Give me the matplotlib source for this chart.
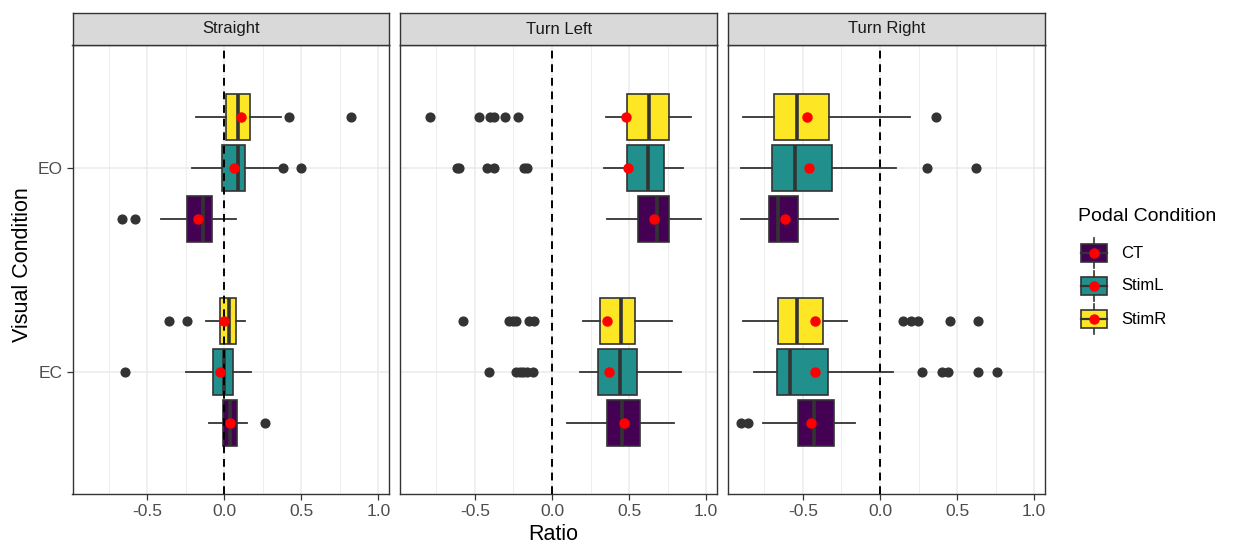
import numpy as np
import matplotlib
matplotlib.use('Agg')
import matplotlib.pyplot as plt
from matplotlib.patches import Rectangle

plt.rcParams['font.family'] = ['Liberation Sans', 'DejaVu Sans']

panels = ['Straight', 'Turn Left', 'Turn Right']
visual = ['EC', 'EO']
podal = ['CT', 'StimL', 'StimR']
colors = ['#440154', '#21908C', '#FDE725']

# order of rows in every list: EC-CT, EC-StimL, EC-StimR, EO-CT, EO-StimL, EO-StimR
whislo = {
    'Straight':   [-0.10, -0.25, -0.12, -0.41, -0.21, -0.18],
    'Turn Left':  [0.10, 0.18, 0.20, 0.36, 0.34, 0.35],
    'Turn Right': [-0.76, -0.82, -0.89, -0.90, -0.90, -0.89],
}
q1 = {
    'Straight':   [-0.01, -0.07, -0.03, -0.24, -0.015, 0.015],
    'Turn Left':  [0.36, 0.30, 0.31, 0.56, 0.49, 0.49],
    'Turn Right': [-0.53, -0.67, -0.66, -0.72, -0.70, -0.69],
}
med = {
    'Straight':   [0.037, 0.0, 0.03, -0.136, 0.09, 0.09],
    'Turn Left':  [0.455, 0.44, 0.45, 0.68, 0.62, 0.63],
    'Turn Right': [-0.43, -0.585, -0.54, -0.66, -0.55, -0.54],
}
q3 = {
    'Straight':   [0.084, 0.058, 0.074, -0.078, 0.134, 0.167],
    'Turn Left':  [0.57, 0.55, 0.54, 0.756, 0.73, 0.756],
    'Turn Right': [-0.30, -0.34, -0.37, -0.53, -0.31, -0.33],
}
whishi = {
    'Straight':   [0.149, 0.177, 0.136, 0.074, 0.35, 0.37],
    'Turn Left':  [0.79, 0.84, 0.78, 0.97, 0.85, 0.90],
    'Turn Right': [-0.16, 0.085, -0.215, -0.27, 0.107, 0.196],
}
means = {
    'Straight':   [0.041, -0.028, 0.002, -0.173, 0.067, 0.11],
    'Turn Left':  [0.466, 0.373, 0.36, 0.662, 0.496, 0.483],
    'Turn Right': [-0.446, -0.422, -0.422, -0.615, -0.459, -0.476],
}
outliers = {
    'Straight': [[0.264], [-0.643], [-0.36, -0.24], [-0.66, -0.58], [0.38, 0.50], [0.42, 0.82]],
    'Turn Left': [[], [-0.407, -0.233, -0.207, -0.185, -0.164, -0.121],
                  [-0.578, -0.276, -0.254, -0.233, -0.147, -0.116], [],
                  [-0.616, -0.60, -0.422, -0.373, -0.179, -0.164],
                  [-0.793, -0.476, -0.405, -0.379, -0.304, -0.218]],
    'Turn Right': [[-0.90, -0.854], [0.27, 0.404, 0.443, 0.635, 0.759],
                   [0.15, 0.204, 0.248, 0.454, 0.639], [], [0.302, 0.622], [0.361]],
}

W, H = 1239, 545
fig = plt.figure(figsize=(W / 100, H / 100), dpi=100)

# panel layout in pixels
lefts = [72.5, 400.3, 728.3]
pw = 316.6
top_px, bot_px = 45.3, 494.3
strip_top = 12.7

dark = '#333333'
for i, name in enumerate(panels):
    ax = fig.add_axes([lefts[i] / W, 1 - bot_px / H, pw / W, (bot_px - top_px) / H])
    ax.set_facecolor('white')
    # grid
    for xv in [-0.75, -0.25, 0.25, 0.75]:
        ax.axvline(xv, color='#EBEBEB', lw=0.6, zorder=0)
    for xv in [-0.5, 0.0, 0.5, 1.0]:
        ax.axvline(xv, color='#EBEBEB', lw=1.1, zorder=0)
    for yv in [1, 2]:
        ax.axhline(yv, color='#EBEBEB', lw=1.1, zorder=0)

    stats = []
    pos = []
    for k in range(6):
        v = k // 3
        p = k % 3
        stats.append(dict(whislo=whislo[name][k], q1=q1[name][k], med=med[name][k],
                          q3=q3[name][k], whishi=whishi[name][k], mean=means[name][k],
                          fliers=np.array(outliers[name][k])))
        pos.append(v + 1 + (p - 1) * 0.25)
    bp = ax.bxp(stats, positions=pos, widths=0.225, orientation='horizontal',
                patch_artist=True, showcaps=False, showmeans=True,
                boxprops=dict(edgecolor=dark, linewidth=1.2),
                whiskerprops=dict(color=dark, linewidth=1.3),
                medianprops=dict(color=dark, linewidth=2.6),
                flierprops=dict(marker='o', markerfacecolor=dark, markeredgecolor=dark,
                                markersize=6.3),
                meanprops=dict(marker='o', markerfacecolor='red', markeredgecolor='red',
                               markersize=6.5))
    for k, box in enumerate(bp['boxes']):
        box.set_facecolor(colors[k % 3])
        box.set_zorder(2)
    for m in bp['means']:
        m.set_zorder(5)

    ax.axvline(0, color='black', lw=1.4, ls=(0, (4, 3)), zorder=4)

    ax.set_xlim(-0.984, 1.07)
    ax.set_ylim(0.4, 2.6)
    ax.set_xticks([-0.5, 0.0, 0.5, 1.0])
    ax.set_xticklabels(['-0.5', '0.0', '0.5', '1.0'])
    ax.set_yticks([1, 2])
    ax.tick_params(axis='both', colors=dark, labelcolor='#4D4D4D', labelsize=12.5,
                   length=4, width=0.9, pad=3)
    if i == 0:
        ax.set_yticklabels(visual)
    else:
        ax.set_yticklabels([])
        ax.tick_params(axis='y', length=0)
    for s in ax.spines.values():
        s.set_color(dark)
        s.set_linewidth(1.0)

    # facet strip
    sax = fig.add_axes([lefts[i] / W, 1 - top_px / H, pw / W, (top_px - strip_top) / H])
    sax.set_facecolor('#D9D9D9')
    sax.set_xticks([])
    sax.set_yticks([])
    for s in sax.spines.values():
        s.set_color(dark)
        s.set_linewidth(1.0)
    sax.text(0.5, 0.5, name, ha='center', va='center', fontsize=12, color='#1A1A1A',
             transform=sax.transAxes)

fig.text(23 / W, 1 - 265 / H, 'Visual Condition', rotation=90, ha='center', va='center',
         fontsize=15.5, color='black')
fig.text(553 / W, 1 - 534 / H, 'Ratio', ha='center', va='center', fontsize=15.5, color='black')

# legend, drawn by hand in pixel space
lax = fig.add_axes([0, 0, 1, 1])
lax.set_xlim(0, W)
lax.set_ylim(H, 0)
lax.axis('off')
lax.text(1078, 216.7, 'Podal Condition', fontsize=14, ha='left', va='center', color='black')
for j, (lab, col) in enumerate(zip(podal, colors)):
    cy = 253 + j * 33
    cx = 1093.7
    lax.plot([cx, cx], [cy - 15, cy + 15], color=dark, lw=1.2)
    lax.add_patch(Rectangle((cx - 13, cy - 8.7), 26, 17.4, facecolor=col, edgecolor=dark,
                            lw=1.2, zorder=3))
    lax.plot([cx - 13, cx + 13], [cy, cy], color=dark, lw=1.6, zorder=4)
    lax.plot([cx], [cy], 'o', color='red', markersize=6.5, zorder=5)
    lax.text(1121, cy, lab, fontsize=12, ha='left', va='center', color='black')

fig.savefig('out.png', dpi=100)
